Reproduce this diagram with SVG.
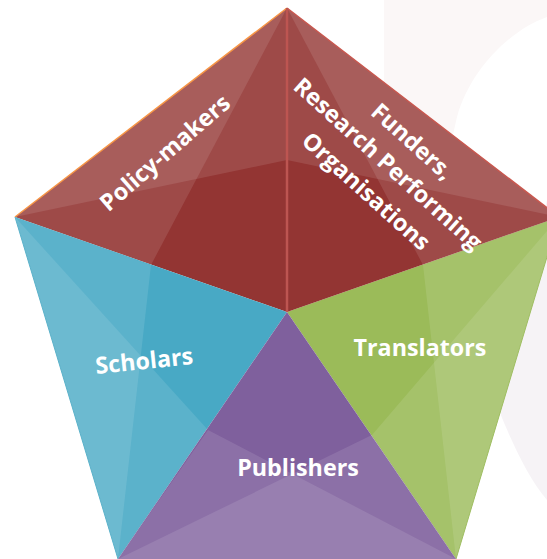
<svg xmlns="http://www.w3.org/2000/svg" width="547" height="559" viewBox="0 0 547 559">
<style>
.ov{fill:#fff;fill-opacity:.105}
.edge{fill:none;stroke-width:1.5}
text{font-family:"Open Sans","Noto Sans",sans-serif;font-weight:700;font-size:23.3px;fill:#fff;text-anchor:middle}
</style>
<rect width="547" height="559" fill="#fff"/>
<g id="background">
<path d="M384 0H547V17C510 30 470 70 457 117L445 170H384Z" fill="#fbf7f7"/>
<path d="M547 200L500 413C515 450 530 480 547 500Z" fill="#f6f3f6"/>
</g>
<g id="policy-makers">
<path d="M287 8L15 217L287 312Z" fill="#933533"/>
<path class="ov" d="M287 8L15 217L287 160Z"/>
<path class="ov" d="M287 8L15 217L151 265Z"/>
<path class="edge" d="M15 217L287 8" stroke="#f79646"/>
<text transform="translate(165 153) rotate(-41)" y="8">Policy-makers</text>
</g>
<g id="scholars">
<path d="M15 217L287 312L118 559Z" fill="#48a9c5"/>
<path class="ov" d="M15 217L118 559L208 430Z"/>
<path class="ov" d="M15 217L118 559L151 265Z"/>
<path d="M15 217L118 559" fill="none" stroke="#5cb2ca"/>
<text transform="translate(145 369) rotate(-6)">Scholars</text>
</g>
<g id="translators">
<path d="M559 217L287 312L456 559Z" fill="#9bbb59"/>
<path class="ov" d="M559 217L456 559L372 435Z"/>
<path class="ov" d="M559 217L456 559L423 265Z"/>
<path d="M559 217L456 559" fill="none" stroke="#9fbe62"/>
<text x="420" y="356">Translators</text>
</g>
<g id="publishers">
<path d="M287 312L118 559H456Z" fill="#7f609d"/>
<path class="ov" d="M118 559H456L208 430Z"/>
<path class="ov" d="M118 559H456L372 435Z"/>
<text x="298" y="476">Publishers</text>
</g>
<g id="funders">
<path d="M287 8L559 217L287 312Z" fill="#933533"/>
<path class="ov" d="M287 8L559 217L287 160Z"/>
<path class="ov" d="M287 8L559 217L423 265Z"/>
<path class="edge" d="M287 8L559 217" stroke="#c9584f"/>
<path d="M287 8V312" fill="none" stroke="#bd5551" stroke-width="2.5"/>
<g transform="translate(388 164) rotate(42)">
<text x="3" y="-25">Funders,</text>
<text x="0" y="8">Research Performing</text>
<text x="2" y="43">Organisations</text>
</g>
</g>
</svg>
